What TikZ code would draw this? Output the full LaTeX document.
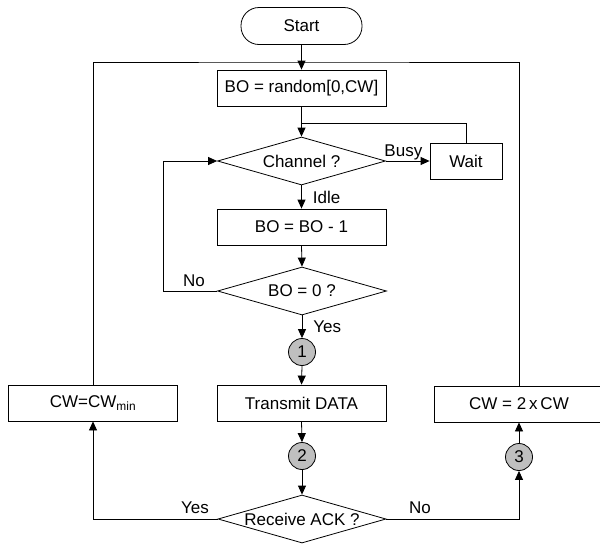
\documentclass[tikz,border=0pt]{standalone}
\usepackage{fontspec}
\setmainfont{Liberation Sans}
\usetikzlibrary{shapes.geometric,arrows.meta}
\begin{document}
\begin{tikzpicture}[x=1pt,y=-1pt,
  font=\fontsize{17}{20}\selectfont,
  every node/.style={inner sep=0pt},
  proc/.style={draw, rectangle, minimum width=169, minimum height=36, line width=0.8pt},
  dec/.style={draw, diamond, aspect=3.5, minimum width=168, minimum height=48, line width=0.8pt},
  conn/.style={draw, circle, fill=black!25, minimum size=27, line width=0.8pt},
  arr/.style={line width=0.8pt, -{Triangle[length=9pt,width=8pt]}},
  ln/.style={line width=0.8pt},
  lbl/.style={inner sep=1pt}]
\useasboundingbox (0,0) rectangle (600,544);
\node[draw, rectangle, rounded corners=18, minimum width=121, minimum height=37, line width=0.8pt] (start) at (301.5,26) {Start};
\node[proc] (rand) at (301.5,88) {BO = random[0,CW]};
\node[dec] (chan) at (301.5,161) {Channel ?};
\node[draw, rectangle, minimum width=72, minimum height=36, line width=0.8pt] (wait) at (466,161) {Wait};
\node[proc] (dec1) at (301.5,227) {BO = BO - 1};
\node[dec, minimum width=169] (bo0) at (302,291) {BO = 0 ?};
\node[conn] (c1) at (302,352) {1};
\node[proc] (tx) at (301.5,403) {Transmit DATA};
\node[conn] (c2) at (302,456) {2};
\node[dec] (ack) at (302,519) {Receive ACK ?};
\node[proc] (cwmin) at (93,403) {CW=CW\textsubscript{min}};
\node[proc] (cw2) at (519,404) {CW = 2\,x\,CW};
\node[conn] (c3) at (519,457) {3};
\coordinate (tl) at (301.5,62);
\coordinate (jw) at (301.5,123);
\coordinate (nl) at (163,161);
% connectors
\draw[arr] (start) -- (rand);
\draw[arr] (rand) -- (chan);
\draw[ln] (wait.north) |- (jw);
\draw[arr] (chan.east) -- node[lbl, above, pos=0.4] {Busy} (wait.west);
\draw[arr] (chan.south) -- node[lbl, right=10pt] {Idle} (dec1.north);
\draw[arr] (dec1.south) -- (bo0.north);
\draw[arr] (bo0.west) -| (nl) -- (chan.west);
\node[lbl] at (194,281) {No};
\draw[arr] (bo0.south) -- node[lbl, right=10pt] {Yes} (c1.north);
\draw[arr] (c1.south) -- (tx.north);
\draw[arr] (tx.south) -- (c2.north);
\draw[arr] (c2.south) -- (ack.north);
\draw[arr] (ack.west) -| (cwmin.south);
\node[lbl] at (195,508) {Yes};
\draw[arr] (ack.east) -| (c3.south);
\node[lbl] at (420,508) {No};
\draw[arr] (c3.north) -- (cw2.south);
\draw[ln] (cwmin.north) |- (tl) -| (cw2.north);
\end{tikzpicture}
\end{document}
